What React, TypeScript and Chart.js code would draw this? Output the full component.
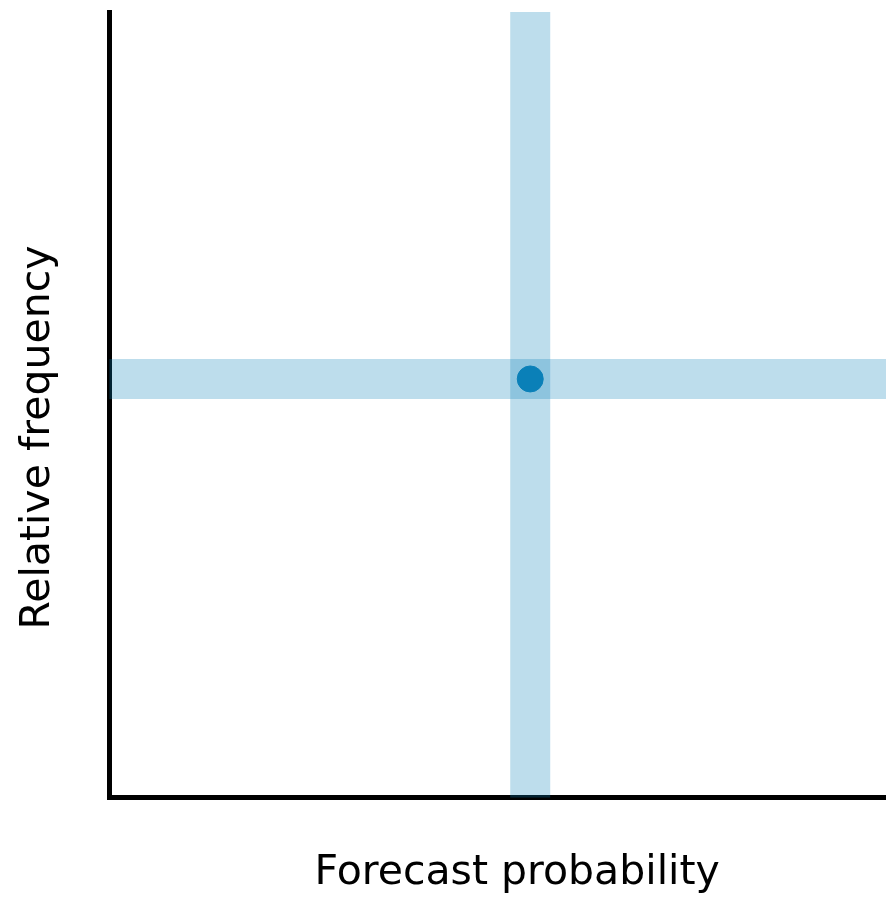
import React, { useEffect, useRef } from "react";
import { Chart, registerables } from "chart.js";

Chart.register(...registerables);

const forecastProbability = [0.542];
const relativeFrequency = [0.533];
const axisRange = [0, 1];
const xTitle = "   Forecast probability";
const yTitle = "Relative frequency     ";

export default function App() {
  const ref = useRef<HTMLCanvasElement | null>(null);
  useEffect(() => {
    if (!ref.current) return;
    const px = forecastProbability[0];
    const py = relativeFrequency[0];
    const band = "rgba(10,128,184,0.27)";
    const chart = new Chart(ref.current, {
      type: "scatter",
      data: {
        datasets: [
          {
            data: [{ x: px, y: py }],
            backgroundColor: "#0a80b8",
            borderColor: "#0a80b8",
            pointRadius: 13,
            order: 0,
          },
          {
            data: [
              { x: px, y: axisRange[0] },
              { x: px, y: axisRange[1] },
            ],
            showLine: true,
            borderColor: band,
            borderWidth: 40,
            borderCapStyle: "butt",
            pointRadius: 0,
            order: 1,
          },
          {
            data: [
              { x: axisRange[0], y: py },
              { x: axisRange[1], y: py },
            ],
            showLine: true,
            borderColor: band,
            borderWidth: 40,
            borderCapStyle: "butt",
            pointRadius: 0,
            order: 2,
          },
        ],
      },
      options: {
        animation: false,
        responsive: true,
        maintainAspectRatio: false,
        layout: { autoPadding: false, padding: { top: 12, right: 0, left: 0, bottom: 0 } },
        plugins: { legend: { display: false }, tooltip: { enabled: false } },
        scales: {
          x: {
            type: "linear",
            min: axisRange[0],
            max: axisRange[1],
            grid: { display: false, drawTicks: false },
            ticks: { display: false },
            border: { display: true, color: "#000", width: 5 },
            title: {
              display: true,
              text: xTitle,
              color: "#000",
              font: { family: "DejaVu Sans", size: 41 },
              padding: { top: 51, bottom: 0 },
            },
          },
          y: {
            type: "linear",
            min: axisRange[0],
            max: axisRange[1],
            grid: { display: false, drawTicks: false },
            ticks: { display: false },
            border: { display: true, color: "#000", width: 5 },
            title: {
              display: true,
              text: yTitle,
              color: "#000",
              font: { family: "DejaVu Sans", size: 41 },
              padding: { top: 14, bottom: 46 },
            },
          },
        },
      },
    });
    return () => chart.destroy();
  }, []);
  return (
    <div style={{ position: "fixed", left: 0, top: 0, width: 886, height: 898, background: "#fff" }}>
      <canvas ref={ref} />
    </div>
  );
}
